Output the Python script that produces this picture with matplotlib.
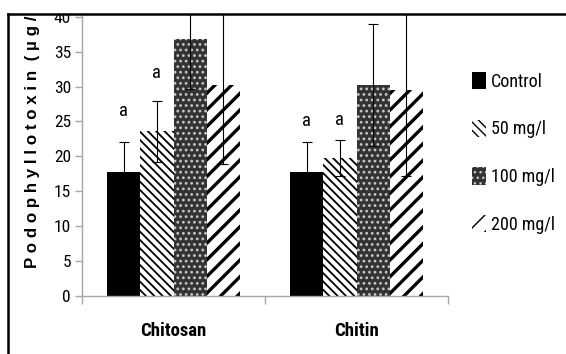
import matplotlib
matplotlib.use("Agg")
import matplotlib.pyplot as plt
from matplotlib.patches import Rectangle
from matplotlib.lines import Line2D

plt.rcParams['font.family'] = ['Roboto Condensed', 'Liberation Sans', 'DejaVu Sans']

# podophyllotoxin content per elicitor and dose
elicitors = ['Chitosan', 'Chitin']
doses = ['Control', '50 mg/l', '100 mg/l', '200 mg/l']
means = {
    'Control': [17.8, 17.8],
    '50 mg/l': [23.6, 19.8],
    '100 mg/l': [36.8, 30.2],
    '200 mg/l': [30.2, 29.5],
}
errors = {
    'Control': [4.3, 4.3],
    '50 mg/l': [4.4, 2.6],
    '100 mg/l': [7.2, 8.7],
    '200 mg/l': [11.3, 12.3],
}
# significance letters (dose -> letter per elicitor)
letters = {
    'Control': ['a', 'a'],
    '50 mg/l': ['a', 'a'],
}
letter_pad = {'Control': [16, 8.5], '50 mg/l': [13, 7.5]}

styles = {
    'Control': dict(facecolor='black', edgecolor='black', hatch=None, hlw=1.0),
    '50 mg/l': dict(facecolor='white', edgecolor='black', hatch='\\\\\\\\', hlw=1.3),
    '100 mg/l': dict(facecolor='#333333', edgecolor='#c8c8c8', hatch='...', hlw=1.2),
    '200 mg/l': dict(facecolor='white', edgecolor='black', hatch='//', hlw=2.4),
}

W, H = 566, 354
fig = plt.figure(figsize=(W / 100, H / 100), dpi=100)
ax = fig.add_axes([82 / W, 1 - 296 / H, 366 / W, 282 / H])

bar_w = 0.182
for i, dose in enumerate(doses):
    xs = [k + 0.5 + (i - 1.5) * bar_w for k in range(len(elicitors))]
    st = styles[dose]
    bars = ax.bar(xs, means[dose], width=bar_w, facecolor=st['facecolor'],
                  edgecolor=st['edgecolor'], hatch=st['hatch'], linewidth=0,
                  label=dose, zorder=2)
    for b in bars:
        if hasattr(b, 'set_hatch_linewidth'):
            b.set_hatch_linewidth(st['hlw'])
    ax.errorbar(xs, means[dose], yerr=errors[dose], fmt='none', ecolor='black',
                elinewidth=0.8, capsize=3.5, capthick=0.8, zorder=3)
    if dose in letters:
        for x, m, e, lt, pad in zip(xs, means[dose], errors[dose],
                                    letters[dose], letter_pad[dose]):
            ax.annotate(lt, (x, m + e), xytext=(0, pad), textcoords='offset points',
                        ha='center', va='bottom', fontsize=13.5)

ax.set_xlim(0, 2)
ax.set_ylim(0, 40.4)
ax.set_yticks(range(0, 41, 5))
ax.set_xticks([0, 1, 2])
ax.set_xticklabels([])
ax.set_xticks([0.5, 1.5], minor=True)
ax.set_xticklabels(elicitors, minor=True, fontweight='bold', fontsize=13.5)
ax.tick_params(axis='x', which='minor', length=0, pad=19)
ax.tick_params(axis='x', which='major', length=6, color='#a6a6a6', width=1)
ax.tick_params(axis='y', length=5, color='#a6a6a6', width=1, labelsize=12.5, pad=3)
for side in ('top', 'right'):
    ax.spines[side].set_visible(False)
for side in ('left', 'bottom'):
    ax.spines[side].set_color('#a6a6a6')
    ax.spines[side].set_linewidth(1)

ylabel = ' '.join('Podophyllotoxin') + '  ( µ g / l )'
fig.text(25 / W, 1 - 268 / H, ylabel, rotation=90, ha='left', va='bottom',
         fontweight='bold', fontsize=12.2, family=['Liberation Sans', 'DejaVu Sans'])

leg = ax.legend(loc='upper left', bbox_to_anchor=(472 / W, 1 - 72 / H),
                bbox_transform=fig.transFigure, frameon=False, fontsize=13,
                handlelength=0.75, handleheight=1.1, handletextpad=0.3,
                labelspacing=1.6, borderpad=0, borderaxespad=0)

# white mask over the strip above the outer border, then the border itself
fig.add_artist(Rectangle((0, 1 - 14 / H), 1, 14 / H, transform=fig.transFigure,
                         facecolor='white', edgecolor='none', zorder=20))
fig.add_artist(Line2D([8 / W, 1], [1 - 14 / H, 1 - 14 / H], transform=fig.transFigure,
                      color='black', linewidth=1.8, zorder=21))
fig.add_artist(Line2D([8 / W, 8 / W], [0, 1 - 14 / H], transform=fig.transFigure,
                      color='black', linewidth=1.8, zorder=21))

fig.savefig('out.png', dpi=100)
